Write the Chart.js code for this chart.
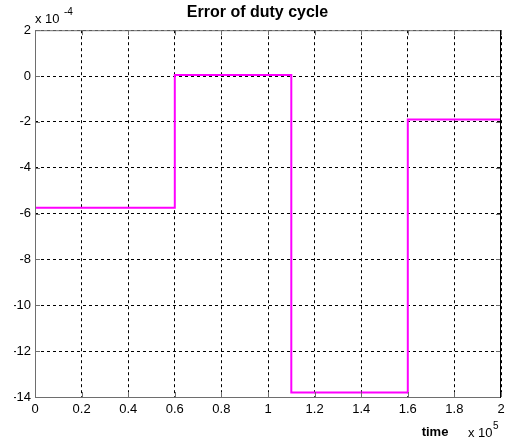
<!DOCTYPE html>
<html>
<head>
<meta charset="utf-8">
<script src="https://cdn.jsdelivr.net/npm/chart.js@4"></script>
<style>
  body { margin: 0; background: #fff; }
</style>
</head>
<body>
<canvas id="dutyChart" width="506" height="443"></canvas>
<script>
// time in units of 1e5, error in units of 1e-4
const stepTimes = [0, 0.6, 1.1, 1.6, 2];
const errorValues = [-5.75, 0.05, -13.8, -1.9, -1.9];
const xTickLabels = ['0', '0.2', '0.4', '0.6', '0.8', '1', '1.2', '1.4', '1.6', '1.8', '2'];
const yTickLabels = ['2', '0', '-2', '-4', '-6', '-8', '-10', '-12', '-14'];

const points = stepTimes.map((t, i) => ({ x: t, y: errorValues[i] }));
const FONT = 'Arial, "Liberation Sans", sans-serif';

// frame, inward ticks and the extra labels matlab puts around the axes
const matlabBox = {
  id: 'matlabBox',
  afterDraw(chart) {
    const { ctx, chartArea: a, scales } = chart;
    ctx.save();
    ctx.lineWidth = 1;
    ctx.strokeStyle = '#6e6e6e';
    ctx.beginPath();
    scales.x.ticks.forEach(t => {
      const px = Math.round(scales.x.getPixelForValue(t.value)) + 0.5;
      ctx.moveTo(px, a.top); ctx.lineTo(px, a.top + 5);
      ctx.moveTo(px, a.bottom); ctx.lineTo(px, a.bottom - 5);
    });
    scales.y.ticks.forEach(t => {
      const py = Math.round(scales.y.getPixelForValue(t.value)) + 0.5;
      ctx.moveTo(a.left, py); ctx.lineTo(a.left + 5, py);
      ctx.moveTo(a.right, py); ctx.lineTo(a.right - 5, py);
    });
    ctx.stroke();
    ctx.beginPath();
    ctx.moveTo(a.left + 0.5, a.bottom + 0.5);
    ctx.lineTo(a.left + 0.5, a.top + 0.5);
    ctx.lineTo(a.right - 0.5, a.top + 0.5);
    ctx.moveTo(a.left, a.bottom + 0.5);
    ctx.lineTo(a.right, a.bottom + 0.5);
    ctx.stroke();
    ctx.strokeStyle = '#000';
    ctx.beginPath();
    ctx.moveTo(a.right - 0.5, a.top);
    ctx.lineTo(a.right - 0.5, a.bottom + 1);
    ctx.stroke();

    ctx.fillStyle = '#000';
    ctx.textBaseline = 'alphabetic';
    ctx.textAlign = 'left';
    ctx.font = '13px ' + FONT;
    ctx.fillText('x 10', a.left, 23);
    ctx.font = '10px ' + FONT;
    ctx.fillText('-4', a.left + 29, 15);

    ctx.font = 'bold 13px ' + FONT;
    ctx.textAlign = 'center';
    ctx.fillText('time', 435, 436);
    ctx.textAlign = 'left';
    ctx.font = '13px ' + FONT;
    ctx.fillText('x 10', 468, 437);
    ctx.font = '10px ' + FONT;
    ctx.fillText('5', 493, 429);
    ctx.restore();
  }
};

const ctx = document.getElementById('dutyChart').getContext('2d');
const dutyChart = new Chart(ctx, {
  type: 'line',
  data: {
    datasets: [{
      data: points,
      borderColor: '#ff00ff',
      borderWidth: 2,
      stepped: true,
      pointRadius: 0,
      fill: false
    }]
  },
  options: {
    responsive: false,
    animation: false,
    layout: { padding: { left: 14, right: 5, top: 0, bottom: 0 } },
    plugins: {
      legend: { display: false },
      tooltip: { enabled: false },
      title: {
        display: true,
        text: 'Error of duty cycle',
        color: '#000',
        font: { family: FONT, size: 16, weight: 'bold' },
        padding: { top: 3, bottom: 8 }
      }
    },
    scales: {
      x: {
        type: 'linear',
        min: 0,
        max: 2,
        ticks: {
          stepSize: 0.2,
          color: '#000',
          padding: 5,
          maxRotation: 0,
          autoSkip: false,
          font: { family: FONT, size: 13 },
          callback: (v, i) => xTickLabels[i]
        },
        grid: { color: '#000', lineWidth: 1, drawTicks: false },
        border: { display: false, dash: [3, 3] },
        afterFit: s => { s.height = 46; s.paddingLeft = 0; s.paddingRight = 0; }
      },
      y: {
        min: -14,
        max: 2,
        ticks: {
          stepSize: 2,
          color: '#000',
          padding: 4,
          autoSkip: false,
          font: { family: FONT, size: 13 },
          callback: (v, i, all) => yTickLabels[all.length - 1 - i]
        },
        grid: { color: '#000', lineWidth: 1, drawTicks: false },
        border: { display: false, dash: [3, 3] },
        afterFit: s => { s.width = 21; }
      }
    }
  },
  plugins: [matlabBox]
});
</script>
</body>
</html>
